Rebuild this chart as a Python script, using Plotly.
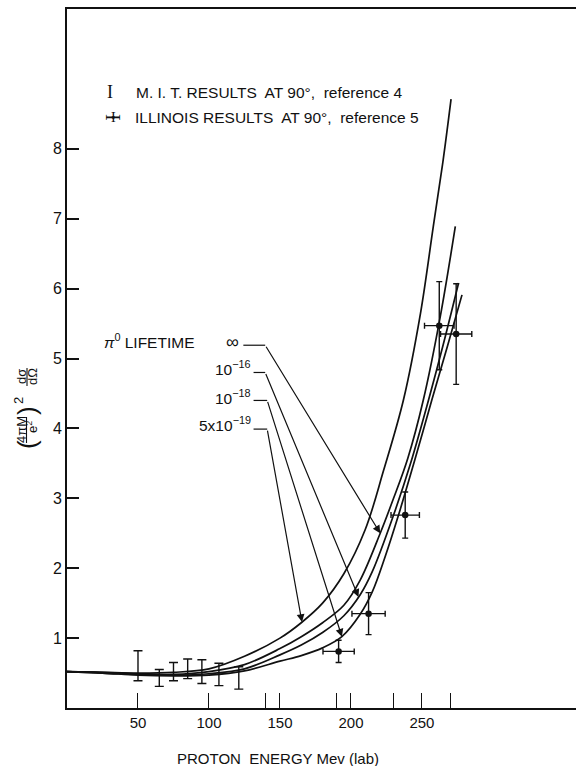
import numpy as np
import plotly.graph_objects as go

# ---------------- data ----------------
# theoretical curves (pi0 lifetime); x = proton energy (MeV lab)
curve_5e19_x = [0, 25, 50, 75, 100, 125, 150, 165, 180, 195, 210, 223, 237, 249, 258, 265, 270.5]
curve_5e19_y = [0.52, 0.51, 0.50, 0.51, 0.56, 0.74, 1.00, 1.22, 1.50, 1.92, 2.55, 3.40, 4.41, 5.65, 6.89, 7.85, 8.71]

curve_inf_x = [0, 25, 50, 75, 100, 125, 150, 165, 180, 195, 206.5, 220.6, 230, 240, 251, 262.9, 273.5]
curve_inf_y = [0.52, 0.51, 0.49, 0.48, 0.52, 0.62, 0.85, 1.02, 1.22, 1.47, 1.83, 2.50, 3.00, 3.57, 4.41, 5.60, 6.89]

curve_1e16_x = [0, 25, 50, 75, 100, 125, 150, 165, 180, 195, 206.5, 215, 230, 242, 254.7, 265, 275.8]
curve_1e16_y = [0.52, 0.50, 0.48, 0.47, 0.49, 0.56, 0.76, 0.90, 1.08, 1.32, 1.62, 1.95, 2.76, 3.50, 4.41, 5.20, 6.08]

curve_1e18_x = [0, 25, 50, 75, 100, 125, 150, 165, 180, 193.6, 206.5, 215, 224, 233.5, 245, 257, 268, 278.2]
curve_1e18_y = [0.52, 0.50, 0.47, 0.46, 0.47, 0.53, 0.67, 0.75, 0.86, 1.02, 1.34, 1.66, 2.16, 2.76, 3.55, 4.41, 5.18, 5.91]

# M.I.T. results (ref. 4)
mit_x = [50, 65, 75, 85, 95, 107, 121]
mit_y = [0.605, 0.43, 0.52, 0.56, 0.52, 0.48, 0.43]
mit_err = [0.215, 0.12, 0.13, 0.14, 0.17, 0.16, 0.16]

# Illinois results (ref. 5)
ill_x = [191.3, 212.4, 238.2, 262.2, 274.1]
ill_y = [0.81, 1.35, 2.76, 5.47, 5.35]
ill_yerr = [0.16, 0.30, 0.33, 0.63, 0.72]
ill_xerr = [11, 11.7, 10, 10.4, 11]

x_tickvals = [50, 100, 140, 150, 190, 200, 230, 250, 270]
x_ticktext = ["50", "100", "", "150", "", "200", "", "250", ""]
y_tickvals = [1, 2, 3, 4, 5, 6, 7, 8]
y_ticktext = ["1", "2", "3", "4", "5", "6", "7", "8"]

# ---------------- layout geometry ----------------
W, H = 576, 766
ML, MT, MB, MR = 67, 9, 58, 0
PW, PH = W - ML - MR, H - MT - MB
X_RANGE = [0, 358.5]
Y_RANGE = [0, 10]


def px(xp):
    return (xp - ML) / PW


def py(yp):
    return (H - MB - yp) / PH


TXT = "Liberation Sans, Arial, sans-serif"
SERIF = "Liberation Serif, serif"
BLACK = "#111111"

fig = go.Figure()

curves = [(curve_5e19_x, curve_5e19_y), (curve_inf_x, curve_inf_y),
          (curve_1e16_x, curve_1e16_y), (curve_1e18_x, curve_1e18_y)]
for cx, cy in curves:
    fig.add_trace(go.Scatter(x=cx, y=cy, mode="lines",
                             line=dict(color=BLACK, width=1.7, shape="spline", smoothing=1.0),
                             hoverinfo="skip"))

fig.add_trace(go.Scatter(x=mit_x, y=mit_y, mode="markers",
                         marker=dict(size=2, color="rgba(0,0,0,0)"),
                         error_y=dict(type="data", array=mit_err, color=BLACK, thickness=1.4, width=4.5)))

fig.add_trace(go.Scatter(x=ill_x, y=ill_y, mode="markers",
                         marker=dict(size=6.5, color=BLACK),
                         error_y=dict(type="data", array=ill_yerr, color=BLACK, thickness=1.4, width=3),
                         error_x=dict(type="data", array=ill_xerr, color=BLACK, thickness=1.4, width=3)))

annotations = []
shapes = []

# ---- lifetime labels with leader lines and arrows ----
labels = [
    # text, text x, text y, xanchor, line start x, corner x, corner y, tip x, curve index
    ("∞", 116.4, 5.24, "center", 124.2, 139.6, 5.19, 220.6, 1),
    ("10<sup>−16</sup>", 131.2, 4.86, "right", 131.4, 139.6, 4.80, 205.3, 2),
    ("10<sup>−18</sup>", 131.2, 4.45, "right", 131.4, 141.0, 4.40, 193.6, 3),
    ("5x10<sup>−19</sup>", 131.2, 4.06, "right", 131.4, 141.0, 3.99, 165.5, 0),
]
for text, tx, ty, xa, lx0, cx0, cy0, tipx, ci in labels:
    annotations.append(dict(x=tx, y=ty, xref="x", yref="y", text=text, showarrow=False,
                            xanchor=xa, yanchor="middle",
                            font=dict(family=TXT, size=15.5 if text != "∞" else 18, color=BLACK)))
    shapes.append(dict(type="line", xref="x", yref="y", x0=lx0, x1=cx0, y0=cy0, y1=cy0,
                       line=dict(color=BLACK, width=1.2)))
    tipy = float(np.interp(tipx, curves[ci][0], curves[ci][1]))
    annotations.append(dict(x=tipx, y=tipy, xref="x", yref="y", ax=cx0, ay=cy0,
                            axref="x", ayref="y", text="", showarrow=True,
                            arrowhead=2, arrowsize=1.3, arrowwidth=1.2, arrowcolor=BLACK))

annotations.append(dict(x=px(102), y=py(340.5), xref="paper", yref="paper",
                        text="<i>π</i><sup>0</sup> LIFETIME", showarrow=False,
                        xanchor="left", yanchor="middle",
                        font=dict(family=TXT, size=15.5, color=BLACK)))

# ---- legend ----
annotations.append(dict(x=px(110), y=py(92), xref="paper", yref="paper", text="I",
                        showarrow=False, xanchor="center", yanchor="middle",
                        font=dict(family=SERIF, size=18, color=BLACK)))
annotations.append(dict(x=px(134), y=py(92), xref="paper", yref="paper",
                        text="M. I. T. RESULTS  AT 90°,  reference 4", showarrow=False,
                        xanchor="left", yanchor="middle",
                        font=dict(family=TXT, size=15.5, color=BLACK)))
# Illinois key: vertical and horizontal capped bars with a dot
annotations.append(dict(x=px(113), y=py(117), xref="paper", yref="paper", text="I",
                        showarrow=False, xanchor="center", yanchor="middle",
                        font=dict(family=SERIF, size=14, color=BLACK)))
annotations.append(dict(x=px(113), y=py(117), xref="paper", yref="paper", text="I",
                        showarrow=False, xanchor="center", yanchor="middle", textangle=90,
                        font=dict(family=SERIF, size=20, color=BLACK)))
annotations.append(dict(x=px(113), y=py(117), xref="paper", yref="paper", text="•",
                        showarrow=False, xanchor="center", yanchor="middle",
                        font=dict(family="DejaVu Sans", size=11, color=BLACK)))
annotations.append(dict(x=px(133), y=py(117), xref="paper", yref="paper",
                        text="ILLINOIS RESULTS  AT 90°,  reference 5", showarrow=False,
                        xanchor="left", yanchor="middle",
                        font=dict(family=TXT, size=15.5, color=BLACK)))

# ---- x axis title ----
annotations.append(dict(x=px(278), y=py(758), xref="paper", yref="paper",
                        text="PROTON  ENERGY Mev (lab)", showarrow=False,
                        xanchor="center", yanchor="middle",
                        font=dict(family=TXT, size=15, color=BLACK)))


# ---- y axis title (built up like the printed fraction) ----
def ytxt(text, xp, yp, size):
    annotations.append(dict(x=px(xp), y=py(yp), xref="paper", yref="paper", text=text,
                            showarrow=False, textangle=-90, xanchor="center", yanchor="middle",
                            font=dict(family=TXT, size=size, color=BLACK)))


ytxt("(", 27, 445, 26)
ytxt("4πM", 21, 430, 13)
ytxt("e<sup>2</sup>", 32, 427, 13)
ytxt(")", 27, 411, 26)
ytxt("2", 18, 401, 13)
ytxt("dσ", 21, 377, 13)
ytxt("dΩ", 32, 377, 13)
shapes.append(dict(type="line", xref="paper", yref="paper", x0=px(26.5), x1=px(26.5),
                   y0=py(417), y1=py(443), line=dict(color=BLACK, width=1.1)))
shapes.append(dict(type="line", xref="paper", yref="paper", x0=px(27), x1=px(27),
                   y0=py(368), y1=py(386), line=dict(color=BLACK, width=1.1)))

fig.update_layout(
    width=W, height=H,
    margin=dict(l=ML, r=MR, t=MT, b=MB, pad=0),
    paper_bgcolor="white", plot_bgcolor="white",
    showlegend=False,
    font=dict(family=TXT, color=BLACK),
    annotations=annotations,
    shapes=shapes,
    xaxis=dict(range=X_RANGE, tickvals=x_tickvals, ticktext=x_ticktext,
               ticks="inside", ticklen=15, tickwidth=1.4, tickcolor=BLACK,
               showline=True, linecolor=BLACK, linewidth=1.6, mirror=True,
               showgrid=False, zeroline=False,
               tickfont=dict(family=TXT, size=15, color=BLACK)),
    yaxis=dict(range=Y_RANGE, tickvals=y_tickvals, ticktext=y_ticktext,
               ticks="inside", ticklen=12, tickwidth=1.5, tickcolor=BLACK,
               showline=True, linecolor=BLACK, linewidth=1.8,
               showgrid=False, zeroline=False,
               tickfont=dict(family=TXT, size=16, color=BLACK)),
    yaxis2=dict(range=Y_RANGE, overlaying="y", side="right", tickvals=y_tickvals,
                ticks="inside", ticklen=9, tickwidth=1.3, tickcolor=BLACK,
                showticklabels=False, showline=False, showgrid=False, zeroline=False),
)

fig.write_html("out.html")
